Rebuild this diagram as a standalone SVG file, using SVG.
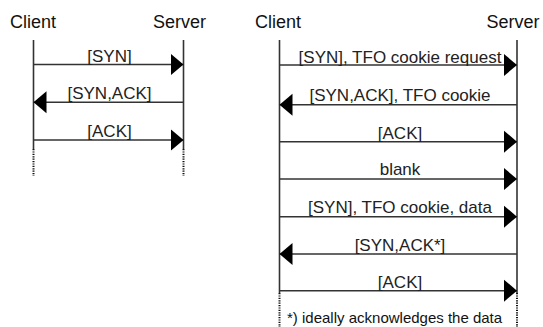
<svg xmlns="http://www.w3.org/2000/svg" width="543" height="327" viewBox="0 0 543 327">
  <style>
    .title { font-family: "Liberation Sans", Arial, sans-serif; font-size: 18px; fill: #111; }
    .label { font-family: "Liberation Sans", Arial, sans-serif; font-size: 17px; fill: #222; text-anchor: middle; }
    .note { font-family: "Liberation Sans", Arial, sans-serif; font-size: 15px; fill: #111; }
    .life { stroke: #333; stroke-width: 1.6; fill: none; }
    .dots { stroke: #111; stroke-width: 2; stroke-dasharray: 1.2 1.2; fill: none; }
    .msg { stroke: #333; stroke-width: 1.6; fill: none; marker-end: url(#head); }
  </style>
  <defs>
    <!-- solid triangular arrowhead, tip placed on the receiving lifeline -->
    <marker id="head" markerUnits="userSpaceOnUse" markerWidth="16" markerHeight="26" viewBox="0 0 16 26" refX="13" refY="13" orient="auto">
      <polygon points="0,2 13,13 0,24" fill="#000"/>
    </marker>
  </defs>

  <!-- Standard three-way handshake -->
  <g id="classic-client">
    <text class="title" x="10" y="28">Client</text>
    <line class="life" x1="33.5" y1="40" x2="33.5" y2="149"/>
    <line class="dots" x1="33.5" y1="149" x2="33.5" y2="176"/>
  </g>
  <g id="classic-server">
    <text class="title" x="153" y="28">Server</text>
    <line class="life" x1="183.5" y1="40" x2="183.5" y2="149"/>
    <line class="dots" x1="183.5" y1="149" x2="183.5" y2="176"/>
  </g>

  <!-- TCP Fast Open exchange -->
  <g id="tfo-client">
    <text class="title" x="255" y="28">Client</text>
    <line class="life" x1="279.5" y1="40" x2="279.5" y2="293"/>
    <line class="dots" x1="279.5" y1="293" x2="279.5" y2="327"/>
  </g>
  <g id="tfo-server">
    <text class="title" x="486.5" y="28">Server</text>
    <line class="life" x1="517" y1="40" x2="517" y2="293"/>
    <line class="dots" x1="517" y1="293" x2="517" y2="327"/>
  </g>

  <g id="connectors">
    <!-- classic -->
    <line class="msg" x1="33.5" y1="64.5" x2="183.5" y2="64.5"/>
    <text class="label" x="109.5" y="61.5">[SYN]</text>
    <line class="msg" x1="183.5" y1="102.3" x2="33.5" y2="102.3"/>
    <text class="label" x="109.5" y="99.3">[SYN,ACK]</text>
    <line class="msg" x1="33.5" y1="140" x2="183.5" y2="140"/>
    <text class="label" x="109.5" y="137">[ACK]</text>

    <!-- fast open -->
    <line class="msg" x1="279.5" y1="65" x2="517" y2="65"/>
    <text class="label" x="400" y="63">[SYN], TFO cookie request</text>
    <line class="msg" x1="517" y1="104.8" x2="279.5" y2="104.8"/>
    <text class="label" x="400" y="100.5">[SYN,ACK], TFO cookie</text>
    <line class="msg" x1="279.5" y1="141.7" x2="517" y2="141.7"/>
    <text class="label" x="400" y="138.5">[ACK]</text>
    <line class="msg" x1="279.5" y1="179" x2="517" y2="179"/>
    <text class="label" x="400" y="175">blank</text>
    <line class="msg" x1="279.5" y1="216.7" x2="517" y2="216.7"/>
    <text class="label" x="400" y="212.5">[SYN], TFO cookie, data</text>
    <line class="msg" x1="517" y1="254" x2="279.5" y2="254"/>
    <text class="label" x="400" y="250.5">[SYN,ACK*]</text>
    <line class="msg" x1="279.5" y1="290.7" x2="517" y2="290.7"/>
    <text class="label" x="400" y="287.5">[ACK]</text>
  </g>

  <text class="note" x="287" y="323">*) ideally acknowledges the data</text>
</svg>
